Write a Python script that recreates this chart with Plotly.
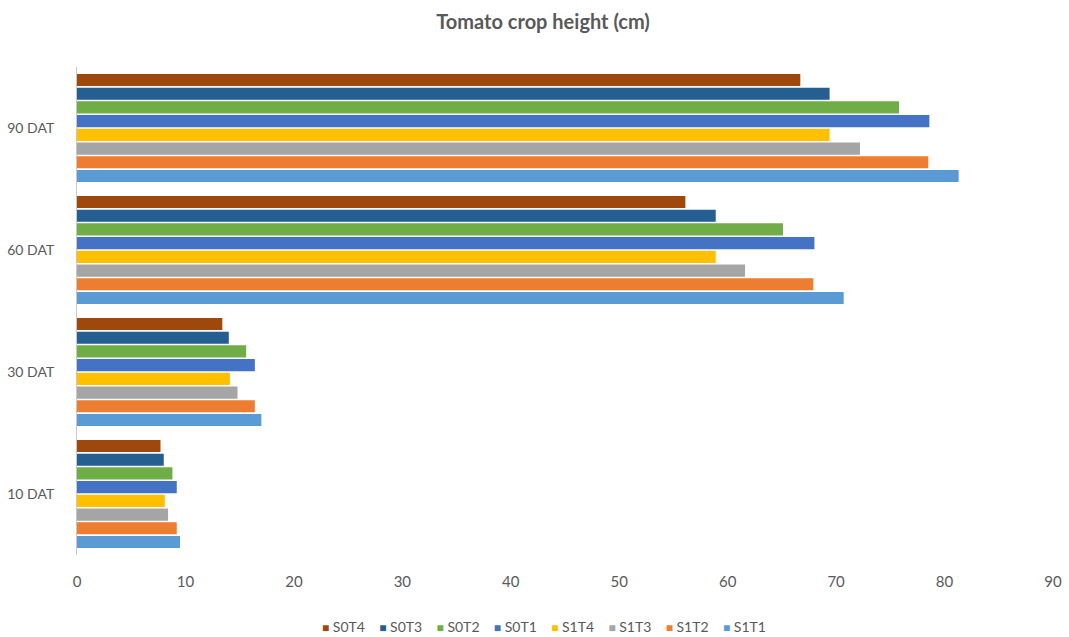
import plotly.graph_objects as go

# Growth stages (days after transplanting)
stages = ["10 DAT", "30 DAT", "60 DAT", "90 DAT"]

# Plant height (cm) per treatment at each stage
s1t1 = [9.5, 17.0, 70.7, 81.3]
s1t2 = [9.2, 16.4, 67.9, 78.5]
s1t3 = [8.4, 14.8, 61.6, 72.2]
s1t4 = [8.1, 14.1, 58.9, 69.4]
s0t1 = [9.2, 16.4, 68.0, 78.6]
s0t2 = [8.8, 15.6, 65.1, 75.8]
s0t3 = [8.0, 14.0, 58.9, 69.4]
s0t4 = [7.7, 13.4, 56.1, 66.7]

x_ticks = [0, 10, 20, 30, 40, 50, 60, 70, 80, 90]

series = [
    ("S1T1", s1t1, "#5B9BD5"),
    ("S1T2", s1t2, "#ED7D31"),
    ("S1T3", s1t3, "#A5A5A5"),
    ("S1T4", s1t4, "#FFC000"),
    ("S0T1", s0t1, "#4472C4"),
    ("S0T2", s0t2, "#70AD47"),
    ("S0T3", s0t3, "#255E91"),
    ("S0T4", s0t4, "#9E480E"),
]

fig = go.Figure()
for name, vals, color in series:
    fig.add_trace(go.Bar(
        name=name,
        y=stages,
        x=vals,
        orientation="h",
        marker=dict(color=color, line=dict(width=0)),
        showlegend=False,
    ))

font_family = "Lato, Carlito, Open Sans, sans-serif"
grey = "#595959"

# Compact legend row (last series first), built as one line of text
gap = "&nbsp;" * 4
legend_text = gap.join(
    f'<span style="color:{color};font-size:12px">■</span>&nbsp;{name}'
    for name, _, color in reversed(series)
)
fig.add_annotation(
    text=legend_text,
    xref="paper", yref="paper",
    x=0.478, y=-0.1475,
    xanchor="center", yanchor="middle",
    showarrow=False,
    font=dict(family=font_family, size=14, color=grey),
)

fig.update_layout(
    width=1069,
    height=637,
    barmode="group",
    bargap=0.1,
    bargroupgap=0.12,
    paper_bgcolor="white",
    plot_bgcolor="white",
    margin=dict(l=77, r=16, t=67, b=82, autoexpand=False),
    title=dict(
        text="<b>Tomato crop height (cm)</b>",
        x=0.508,
        xanchor="center",
        y=0.965,
        yanchor="middle",
        font=dict(family=font_family, size=20, color=grey),
    ),
    font=dict(family=font_family, size=14, color=grey),
    showlegend=False,
)

fig.update_xaxes(
    range=[0, 90],
    tickvals=x_ticks,
    showgrid=False,
    zeroline=False,
    showline=False,
    ticks="",
    automargin=False,
    ticklabelstandoff=16,
    tickfont=dict(size=15, color=grey),
)
fig.update_yaxes(
    type="category",
    categoryorder="array",
    categoryarray=stages,
    showgrid=False,
    zeroline=False,
    showline=True,
    linecolor="#C8C8C8",
    linewidth=1,
    ticks="",
    automargin=False,
    ticklabelstandoff=19,
    tickfont=dict(size=14, color=grey),
)

fig.write_html("out.html")
